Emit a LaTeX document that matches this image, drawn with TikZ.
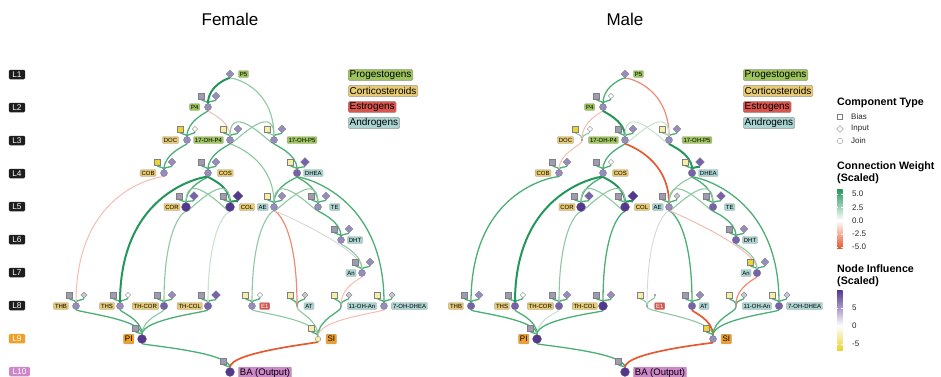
\documentclass[tikz,border=0pt]{standalone}
\usepackage{fontspec}
\setmainfont{Liberation Sans}
\usetikzlibrary{shapes.geometric,backgrounds}

\definecolor{gS}{RGB}{35,150,90}
\definecolor{gM}{RGB}{75,175,117}
\definecolor{gL}{RGB}{140,200,160}
\definecolor{gVL}{RGB}{200,228,208}
\definecolor{rS}{RGB}{228,90,50}
\definecolor{rM}{RGB}{238,140,115}
\definecolor{rL}{RGB}{245,188,178}
\definecolor{gyE}{RGB}{215,215,215}
\definecolor{pD}{RGB}{85,55,145}
\definecolor{pM}{RGB}{118,98,172}
\definecolor{pL}{RGB}{150,140,190}
\definecolor{pG}{RGB}{158,155,178}
\definecolor{pLG}{RGB}{200,198,212}
\definecolor{yS}{RGB}{232,212,50}
\definecolor{yL}{RGB}{246,238,165}
\definecolor{cProg}{RGB}{158,196,92}
\definecolor{cCort}{RGB}{232,202,115}
\definecolor{cEst}{RGB}{217,85,78}
\definecolor{cAnd}{RGB}{170,212,210}
\definecolor{cOrg}{RGB}{240,160,40}
\definecolor{cPink}{RGB}{204,136,200}
\definecolor{cBlk}{RGB}{30,30,30}

\tikzset{
 jn/.style={circle, inner sep=0pt, draw=black!55, line width=0.3pt},
 jL/.style={jn, fill=pL, minimum size=7pt},
 jM/.style={jn, fill=pM, minimum size=7.5pt},
 jD/.style={jn, fill=pD, minimum size=9pt},
 jY/.style={jn, fill=yL, minimum size=5.5pt},
 jT/.style={circle, inner sep=0pt, fill=black!70, minimum size=1.8pt},
 bs/.style={rectangle, inner sep=0pt, draw=black!50, line width=0.3pt, minimum size=5.5pt},
 bG/.style={bs, fill=pG},
 bY/.style={bs, fill=yS, minimum size=6.3pt},
 bLY/.style={bs, fill=yL},
 di/.style={diamond, aspect=1, inner sep=0pt, draw=black!50, line width=0.3pt},
 iL/.style={di, fill=pL, minimum size=8pt},
 iP/.style={di, fill=pM, minimum size=9pt},
 iD/.style={di, fill=pD, minimum size=10.5pt},
 iW/.style={di, fill=white, minimum size=5.5pt},
 iG/.style={di, fill=pLG, minimum size=6.5pt},
 iT/.style={circle, inner sep=0pt, fill=black!70, minimum size=1.8pt},
 lab/.style={rectangle, rounded corners=1pt, draw=black!35, line width=0.3pt, inner xsep=1.4pt, inner ysep=0.6pt, font=\fontsize{6}{6.5}\selectfont, minimum height=7pt},
 labB/.style={lab, font=\fontsize{8}{9}\selectfont, minimum height=9.7pt, inner xsep=1.5pt},
 labC/.style={lab, font=\fontsize{9.5}{10}\selectfont, minimum height=12pt, inner xsep=1.5pt},
 lay/.style={rectangle, rounded corners=1.2pt, text=white, inner xsep=3.4pt, inner ysep=0.5pt, minimum height=9.5pt, font=\fontsize{8.3}{9}\selectfont},
 leg/.style={rectangle, rounded corners=1.5pt, draw=black!40, line width=0.4pt, inner xsep=1.5pt, inner ysep=0.5pt, font=\fontsize{10}{11}\selectfont, anchor=west, minimum height=11.3pt},
 eGS/.style={draw=gS, line width=2pt},
 eGM/.style={draw=gM, line width=1.3pt},
 eGL/.style={draw=gL, line width=1.1pt},
 eGV/.style={draw=gVL, line width=1.1pt},
 eRS/.style={draw=rS, line width=1.7pt},
 eRM/.style={draw=rM, line width=1.2pt},
 eRL/.style={draw=rL, line width=1pt},
 eGY/.style={draw=gyE, line width=0.9pt},
 ttl/.style={font=\fontsize{17}{20}\selectfont},
 lgt/.style={anchor=west, inner sep=0pt, font=\bfseries\fontsize{10.7}{12}\selectfont},
 lgs/.style={anchor=west, inner sep=0pt, font=\fontsize{8}{9}\selectfont, text=black!85},
}

% unit: name, x, y, join style, bias style, input style, bias edge, input edge
\newcommand\U[8]{%
  \node[#4] (#1) at (#2,#3) {};
  \node[#5] (#1b) at ([shift={(-7,-11)}]#1) {};
  \node[#6] (#1i) at ([shift={(8,-11)}]#1) {};
  \begin{pgfonlayer}{background}
  \draw[#7] (#1b) .. controls +(0,5) and +(0,-6) .. (#1);
  \draw[#8] (#1i) .. controls +(0,5) and +(0,-6) .. (#1);
  \end{pgfonlayer}%
}
% unit with bias only
\newcommand\V[5]{%
  \node[#4] (#1) at (#2,#3) {};
  \node[#5] (#1b) at ([shift={(-7,-11)}]#1) {};
  \begin{pgfonlayer}{background}
  \draw[eGM] (#1b) .. controls +(0,5) and +(0,-6) .. (#1);
  \end{pgfonlayer}%
}
\newcommand\E[5]{\draw[#1] (#2) .. controls +(0,#4) and +(0,-#5) .. (#3);}

\begin{document}
\begin{tikzpicture}[x=1pt,y=-1pt]
\useasboundingbox (0,0) rectangle (941,376);

% titles
\node[ttl] (tF) at (230,19) {Female};
\node[ttl] (tM) at (625,19) {Male};

% layer labels
\node[lay, fill=cBlk] (L1) at (17,74.5) {L1};
\node[lay, fill=cBlk] (L2) at (17,107.5) {L2};
\node[lay, fill=cBlk] (L3) at (17,140.5) {L3};
\node[lay, fill=cBlk] (L4) at (17,173.5) {L4};
\node[lay, fill=cBlk] (L5) at (17,206.5) {L5};
\node[lay, fill=cBlk] (L6) at (17,239.5) {L6};
\node[lay, fill=cBlk] (L7) at (17,272.5) {L7};
\node[lay, fill=cBlk] (L8) at (17,305.5) {L8};
\node[lay, fill=cOrg] (L9) at (17,338.7) {L9};
\node[lay, fill=cPink] (L10) at (19.5,371.5) {L10};

% ================= FEMALE =================
\node[iL] (fP5) at (230,74) {};
\U{fP4}{208}{107}{jL}{bG}{iL}{eGM}{eGM}
\U{fDOC}{187}{140}{jL}{bY}{iW}{eGM}{eGM}
\U{fOHPf}{230}{140}{jL}{bLY}{iL}{eGM}{eGM}
\U{fOHPv}{274}{140}{jL}{bLY}{iL}{eGL}{eGM}
\U{fCOB}{164}{173}{jL}{bY}{iL}{eGM}{eGM}
\U{fCOS}{208}{173}{jL}{bG}{iL}{eGM}{eGM}
\U{fDHEA}{297}{173}{jM}{bLY}{iP}{eGM}{eGM}
\U{fCOR}{186}{207}{jD}{bG}{iP}{eGM}{eGM}
\U{fCOL}{230}{207}{jD}{bG}{iD}{eGM}{eGS}
\U{fAE}{274}{207}{jL}{bLY}{iL}{eGM}{eGM}
\U{fTE}{318}{207}{jL}{bG}{iL}{eGM}{eGM}
\U{fDHT}{341}{240}{jL}{bG}{iL}{eGM}{eGM}
\U{fAn}{362}{273}{jL}{bG}{iL}{eGM}{eGM}
\U{fTHB}{76}{306}{jL}{bG}{iG}{eGM}{eGM}
\U{fTHS}{120}{306}{jL}{bG}{iW}{eGM}{eGM}
\U{fTHCOR}{164}{306}{jM}{bG}{iL}{eGM}{eGM}
\U{fTHCOL}{208}{306}{jM}{bG}{iP}{eGM}{eGM}
\U{fEone}{252}{306}{jL}{bLY}{iW}{eGM}{eGM}
\U{fAT}{297}{306}{jT}{bLY}{iG}{eGM}{eGM}
\U{fOHAn}{341}{306}{jT}{bLY}{iG}{eGM}{eGM}
\U{fSOHD}{384}{306}{jL}{bLY}{iG}{eGM}{eGM}
\V{fPI}{142}{339}{jD}{bG}
\V{fSI}{318}{339}{jY}{bLY}
\V{fBA}{230}{372}{jD}{bG}

\node[lab, fill=cProg] (fP5t) at (243.5,74) {P5};
\node[lab, fill=cProg] (fP4t) at (194.7,107) {P4};
\node[lab, fill=cCort] (fDOCt) at (170.5,140) {DOC};
\node[lab, fill=cProg] (fOHPft) at (208.5,140) {17-OH-P4};
\node[lab, fill=cProg] (fOHPvt) at (302,140) {17-OH-P5};
\node[lab, fill=cCort] (fCOBt) at (148,173) {COB};
\node[lab, fill=cCort] (fCOSt) at (225.3,173) {COS};
\node[lab, fill=cAnd] (fDHEAt) at (313.3,173) {DHEA};
\node[lab, fill=cCort] (fCORt) at (172,207) {COR};
\node[lab, fill=cCort] (fCOLt) at (247,207) {COL};
\node[lab, fill=cAnd] (fAEt) at (262.7,207) {AE};
\node[lab, fill=cAnd] (fTEt) at (334.7,207) {TE};
\node[lab, fill=cAnd] (fDHTt) at (355,240) {DHT};
\node[lab, fill=cAnd] (fAnt) at (351,273) {An};
\node[lab, fill=cCort] (fTHBt) at (61,306) {THB};
\node[lab, fill=cCort] (fTHSt) at (107,306) {THS};
\node[lab, fill=cCort] (fTHCORt) at (145.3,306) {TH-COR};
\node[lab, fill=cCort] (fTHCOLt) at (189.7,306) {TH-COL};
\node[lab, fill=cEst, text=white] (fEonet) at (264.7,306) {E1};
\node[lab, fill=cAnd] (fATt) at (309,306) {AT};
\node[lab, fill=cAnd] (fOHAnt) at (362,306) {11-OH-An};
\node[lab, fill=cAnd] (fSOHDt) at (409.5,306) {7-OH-DHEA};
\node[labB, fill=cOrg] (fPIt) at (128.7,339) {PI};
\node[labB, fill=cOrg] (fSIt) at (331.3,339) {SI};
\node[labC, fill=cPink] (fBAt) at (265,373) {BA (Output)};

\node[leg, fill=cProg] (fg1) at (348,75) {Progestogens};
\node[leg, fill=cCort] (fg2) at (348,91) {Corticosteroids};
\node[leg, fill=cEst] (fg3) at (348,107) {Estrogens};
\node[leg, fill=cAnd] (fg4) at (348,123) {Androgens};

\begin{pgfonlayer}{background}
\E{eGS}{fP5}{fP4}{3}{22}
\E{eGL}{fP5}{fOHPv}{3}{55}
\E{eGM}{fP4}{fDOC}{5}{20}
\E{eRL}{fP4}{fOHPf}{5}{20}
\E{eGL}{fOHPf}{fOHPv}{8}{42}
\E{eGL}{fOHPv}{fOHPf}{8}{42}
\E{eGM}{fOHPv}{fDHEA}{5}{20}
\E{eGM}{fDOC}{fCOB}{5}{20}
\E{eGM}{fOHPf}{fCOS}{5}{20}
\E{eGL}{fOHPf}{fAE}{4}{50}
\E{eRL}{fCOB}{fTHB}{3}{120}
\E{eGM}{fCOS}{fCOR}{5}{22}
\E{eGS}{fCOS}{fCOL}{5}{22}
\E{eGS}{fCOS}{fTHS}{3}{118}
\E{eGL}{fCOR}{fCOL}{8}{42}
\E{eGL}{fCOL}{fCOR}{8}{42}
\E{eGM}{fDHEA}{fAE}{5}{22}
\E{eGM}{fDHEA}{fTE}{5}{22}
\E{eGM}{fDHEA}{fSOHD}{3}{115}
\E{eGL}{fAE}{fTE}{8}{42}
\E{eGL}{fTE}{fAE}{8}{42}
\E{eGL}{fCOR}{fTHCOR}{3}{85}
\E{eGV}{fCOL}{fTHCOL}{3}{85}
\E{eGL}{fAE}{fEone}{3}{85}
\E{eRM}{fAE}{fAT}{3}{85}
\E{eGY}{fAE}{fAn}{3}{25}
\E{eGM}{fTE}{fDHT}{5}{20}
\E{eGL}{fDHT}{fAn}{5}{20}
\E{eRL}{fAn}{fOHAn}{5}{20}
\E{eGM}{fTHB}{fPI}{6}{20}
\E{eGM}{fTHS}{fPI}{6}{20}
\E{eGL}{fTHCOR}{fPI}{6}{20}
\E{eGM}{fTHCOL}{fPI}{6}{20}
\E{eGL}{fEone}{fSI}{6}{20}
\E{eGL}{fAT}{fSI}{6}{20}
\E{eGM}{fOHAn}{fSI}{6}{20}
\E{eRL}{fSOHD}{fSI}{6}{20}
\E{eGM}{fPI}{fBA}{6}{20}
\E{eRS}{fSI}{fBA}{4}{20}
\end{pgfonlayer}

% ================= MALE =================
\begin{scope}[shift={(395,0)}]
\node[iL] (mP5) at (230,74) {};
\U{mP4}{208}{107}{jL}{bG}{iW}{eGM}{eGM}
\U{mDOC}{187}{140}{jT}{bY}{iW}{eGL}{eGL}
\U{mOHPf}{230}{140}{jL}{bG}{iL}{eGM}{eGM}
\U{mOHPv}{274}{140}{jL}{bLY}{iL}{eGL}{eGM}
\U{mCOB}{164}{173}{jL}{bG}{iL}{eGM}{eGM}
\U{mCOS}{208}{173}{jL}{bG}{iW}{eGM}{eGM}
\U{mDHEA}{297}{173}{jM}{bLY}{iP}{eGM}{eGS}
\U{mCOR}{186}{207}{jD}{bG}{iP}{eGM}{eGM}
\U{mCOL}{230}{207}{jD}{bG}{iD}{eGM}{eGS}
\U{mAE}{274}{207}{jL}{bG}{iG}{eGM}{eGM}
\U{mTE}{318}{207}{jM}{bG}{iP}{eGM}{eGM}
\U{mDHT}{341}{240}{jM}{bG}{iL}{eGM}{eGM}
\U{mAn}{362}{273}{jM}{bY}{iL}{eGM}{eGM}
\U{mTHB}{76}{306}{jM}{bG}{iL}{eGM}{eGM}
\U{mTHS}{120}{306}{jM}{bG}{iW}{eGM}{eGM}
\U{mTHCOR}{164}{306}{jM}{bG}{iL}{eGM}{eGM}
\U{mTHCOL}{208}{306}{jD}{bG}{iL}{eGM}{eGM}
\U{mEone}{252}{306}{jT}{bLY}{iT}{eGL}{eGL}
\U{mAT}{297}{306}{jM}{bG}{iL}{eGM}{eGM}
\U{mOHAn}{341}{306}{jT}{bLY}{iG}{eGM}{eGM}
\U{mSOHD}{384}{306}{jM}{bLY}{iG}{eGM}{eGM}
\V{mPI}{142}{339}{jD}{bG}
\V{mSI}{318}{339}{jL}{bY}
\V{mBA}{230}{372}{jD}{bG}

\node[lab, fill=cProg] (mP5t) at (243.5,74) {P5};
\node[lab, fill=cProg] (mP4t) at (194.7,107) {P4};
\node[lab, fill=cCort] (mDOCt) at (170.5,140) {DOC};
\node[lab, fill=cProg] (mOHPft) at (208.5,140) {17-OH-P4};
\node[lab, fill=cProg] (mOHPvt) at (302,140) {17-OH-P5};
\node[lab, fill=cCort] (mCOBt) at (148,173) {COB};
\node[lab, fill=cCort] (mCOSt) at (225.3,173) {COS};
\node[lab, fill=cAnd] (mDHEAt) at (313.3,173) {DHEA};
\node[lab, fill=cCort] (mCORt) at (172,207) {COR};
\node[lab, fill=cCort] (mCOLt) at (247,207) {COL};
\node[lab, fill=cAnd] (mAEt) at (262.7,207) {AE};
\node[lab, fill=cAnd] (mTEt) at (334.7,207) {TE};
\node[lab, fill=cAnd] (mDHTt) at (355,240) {DHT};
\node[lab, fill=cAnd] (mAnt) at (351,273) {An};
\node[lab, fill=cCort] (mTHBt) at (61,306) {THB};
\node[lab, fill=cCort] (mTHSt) at (107,306) {THS};
\node[lab, fill=cCort] (mTHCORt) at (145.3,306) {TH-COR};
\node[lab, fill=cCort] (mTHCOLt) at (189.7,306) {TH-COL};
\node[lab, fill=cEst, text=white] (mEonet) at (264.7,306) {E1};
\node[lab, fill=cAnd] (mATt) at (309,306) {AT};
\node[lab, fill=cAnd] (mOHAnt) at (362,306) {11-OH-An};
\node[lab, fill=cAnd] (mSOHDt) at (409.5,306) {7-OH-DHEA};
\node[labB, fill=cOrg] (mPIt) at (128.7,339) {PI};
\node[labB, fill=cOrg] (mSIt) at (331.3,339) {SI};
\node[labC, fill=cPink] (mBAt) at (265,373) {BA (Output)};

\node[leg, fill=cProg] (mg1) at (348,75) {Progestogens};
\node[leg, fill=cCort] (mg2) at (348,91) {Corticosteroids};
\node[leg, fill=cEst] (mg3) at (348,107) {Estrogens};
\node[leg, fill=cAnd] (mg4) at (348,123) {Androgens};

\begin{pgfonlayer}{background}
\E{eGM}{mP5}{mP4}{3}{22}
\E{eRM}{mP5}{mOHPv}{3}{55}
\E{eRL}{mP4}{mDOC}{5}{20}
\E{eGS}{mP4}{mOHPf}{5}{20}
\E{eGV}{mOHPf}{mOHPv}{8}{42}
\E{eGV}{mOHPv}{mOHPf}{8}{42}
\E{eGS}{mOHPv}{mDHEA}{5}{20}
\E{eRL}{mDOC}{mCOB}{5}{20}
\E{eGM}{mOHPf}{mCOS}{5}{20}
\E{eRS}{mOHPf}{mAE}{4}{50}
\E{eGM}{mCOB}{mTHB}{3}{120}
\E{eGM}{mCOS}{mCOR}{5}{22}
\E{eGS}{mCOS}{mCOL}{5}{22}
\E{eGS}{mCOS}{mTHS}{3}{118}
\E{eGL}{mCOR}{mCOL}{8}{42}
\E{eGL}{mCOL}{mCOR}{8}{42}
\E{eGL}{mDHEA}{mAE}{5}{22}
\E{eGM}{mDHEA}{mTE}{5}{22}
\E{eGM}{mDHEA}{mSOHD}{3}{115}
\E{eGL}{mAE}{mTE}{8}{42}
\E{eGL}{mTE}{mAE}{8}{42}
\E{eGL}{mCOR}{mTHCOR}{3}{85}
\E{eGM}{mCOL}{mTHCOL}{3}{85}
\E{eGY}{mAE}{mEone}{3}{85}
\E{eGM}{mAE}{mAT}{3}{85}
\E{eRL}{mAE}{mAn}{3}{25}
\E{eGM}{mTE}{mDHT}{5}{20}
\E{eGL}{mDHT}{mAn}{5}{20}
\E{eRM}{mAn}{mOHAn}{5}{20}
\E{eGM}{mTHB}{mPI}{6}{20}
\E{eGM}{mTHS}{mPI}{6}{20}
\E{eGV}{mTHCOR}{mPI}{6}{20}
\E{eGM}{mTHCOL}{mPI}{6}{20}
\E{eGL}{mEone}{mSI}{6}{20}
\E{eRS}{mAT}{mSI}{6}{20}
\E{eGM}{mOHAn}{mSI}{6}{20}
\E{eGM}{mSOHD}{mSI}{6}{20}
\E{eGM}{mPI}{mBA}{6}{20}
\E{eRS}{mSI}{mBA}{4}{20}
\end{pgfonlayer}
\end{scope}

% ================= RIGHT LEGEND =================
\node[lgt] (lgA) at (837,103) {Component Type};
\node[bs, fill=white, minimum size=5pt] (lgBs) at (840,117) {};
\node[lgs] (lgBt) at (851,117) {Bias};
\node[di, fill=white, minimum size=7pt] (lgIs) at (840,129) {};
\node[lgs] (lgIt) at (851,129) {Input};
\node[circle, draw=black!50, line width=0.3pt, inner sep=0pt, minimum size=5.5pt] (lgJs) at (840,141) {};
\node[lgs] (lgJt) at (851,141) {Join};

\node[lgt] (lgC1) at (837,167) {Connection Weight};
\node[lgt] (lgC2) at (837,179) {(Scaled)};
\shade[top color=gS, bottom color=white] (837,189) rectangle (842.5,220.5);
\shade[top color=white, bottom color=rS] (837,220.5) rectangle (842.5,248);
\foreach \yy in {194,207.3,220.5,233.8,247}{
  \draw[white, line width=0.4pt] (837,\yy) -- (838.4,\yy) (841.1,\yy) -- (842.5,\yy);
}
\node[lgs] (cw1) at (852,194) {5.0};
\node[lgs] (cw2) at (852,207.3) {2.5};
\node[lgs] (cw3) at (852,220.5) {0.0};
\node[lgs] (cw4) at (852,233.8) {-2.5};
\node[lgs] (cw5) at (852,247) {-5.0};

\node[lgt] (lgN1) at (837,269) {Node Influence};
\node[lgt] (lgN2) at (837,281.5) {(Scaled)};
\shade[top color=pD, bottom color=white] (837,290) rectangle (842.5,326);
\shade[top color=white, bottom color=yS] (837,326) rectangle (842.5,350);
\foreach \yy in {308,326,344}{
  \draw[white, line width=0.4pt] (837,\yy) -- (838.4,\yy) (841.1,\yy) -- (842.5,\yy);
}
\node[lgs] (ni1) at (852,308) {5};
\node[lgs] (ni2) at (852,326) {0};
\node[lgs] (ni3) at (852,344) {-5};
\end{tikzpicture}
\end{document}
